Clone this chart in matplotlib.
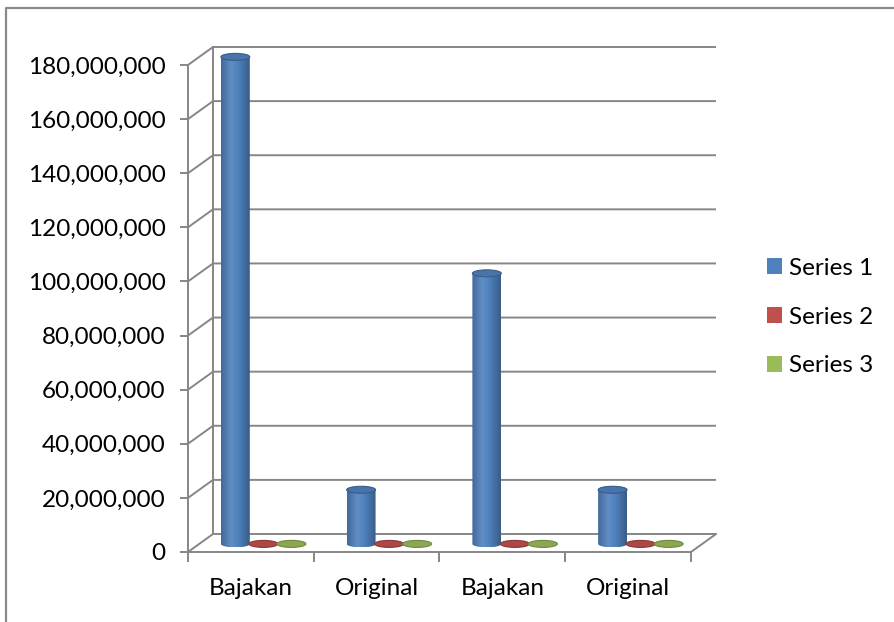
import numpy as np
import matplotlib
matplotlib.use("Agg")
import matplotlib.pyplot as plt
from matplotlib.patches import Polygon, Ellipse, Patch
from matplotlib.colors import to_rgb, LinearSegmentedColormap
from matplotlib.ticker import FuncFormatter

# data
categories = ["Bajakan", "Original", "Bajakan", "Original"]
series_names = ["Series 1", "Series 2", "Series 3"]
series1 = [180000000, 20000000, 100000000, 20000000]
series2 = [0, 0, 0, 0]
series3 = [0, 0, 0, 0]
y_ticks = np.arange(0, 180000001, 20000000)

colors = ["#4F81BD", "#C0504D", "#9BBB59"]
grid_col = "#868686"
fsize = 17.5

plt.rcParams["font.family"] = ["Lato", "DejaVu Sans"]

W, H = 894, 622
fig = plt.figure(figsize=(W / 100, H / 100), dpi=100)

# front plane of the 3D box
ax = fig.add_axes([188 / W, (H - 552) / H, (691 - 188) / W, (552 - 65) / H])
ax.set_xlim(0, len(categories))
ax.set_ylim(0, y_ticks[-1])
ax.patch.set_visible(False)
for s in ("top", "right"):
    ax.spines[s].set_visible(False)
for s in ("left", "bottom"):
    ax.spines[s].set_color(grid_col)
    ax.spines[s].set_linewidth(1.4)
ax.set_yticks(y_ticks)
ax.yaxis.set_major_formatter(FuncFormatter(lambda v, p: f"{v:,.0f}"))
ax.tick_params(axis="y", length=5.5, width=1.4, color=grid_col, pad=10.5, labelsize=fsize)
ax.set_xticks(np.arange(len(categories) + 1))
ax.set_xticklabels([])
ax.set_xticks(np.arange(len(categories)) + 0.5, minor=True)
ax.set_xticklabels(categories, minor=True)
ax.tick_params(axis="x", which="major", length=7, width=1.4, color=grid_col)
ax.tick_params(axis="x", which="minor", length=0, pad=19, labelsize=fsize)

# overlay in pixel units for the walls and cylinders
pa = fig.add_axes([0, 0, 1, 1], zorder=-1)
pa.set_xlim(0, W)
pa.set_ylim(0, H)
pa.set_autoscale_on(False)
pa.axis("off")

DX, DY = 25, 18


def proj(x, v, d):
    px = ax.transData.transform((x, v))
    return px[0] + DX * d, px[1] + DY * d


def shade(c, f):
    c = np.array(to_rgb(c))
    if f <= 1:
        return tuple(c * f)
    return tuple(c + (1 - c) * (f - 1))


n = len(categories)
for v in y_ticks:
    x0, y0 = proj(0, v, 0)
    x1, y1 = proj(0, v, 1)
    x2, y2 = proj(n, v, 1)
    pa.plot([x0, x1, x2], [y0, y1, y2], color=grid_col, lw=1.4, solid_capstyle="butt")
bx0, by0 = proj(0, 0, 1)
bx1, by1 = proj(0, y_ticks[-1], 1)
pa.plot([bx0, bx1], [by0, by1], color=grid_col, lw=1.4)
fx0, fy0 = proj(n, 0, 0)
fx1, fy1 = proj(n, 0, 1)
pa.plot([fx0, fx1], [fy0, fy1], color=grid_col, lw=1.4)

# cylinders
offsets = [0.287, 0.51, 0.733]
hw = 0.115
depth = 0.45
ry = 3.5
grad = np.linspace(0, 1, 64)[None, :]
for si, (vals, col) in enumerate(zip([series1, series2, series3], colors)):
    cmap = LinearSegmentedColormap.from_list(
        "cyl%d" % si,
        [(0, shade(col, 0.82)), (0.35, shade(col, 1.1)), (0.6, shade(col, 1.0)), (1, shade(col, 0.72))])
    for ci, v in enumerate(vals):
        cx = ci + offsets[si]
        xl, yb = proj(cx - hw, 0, depth)
        xr, _ = proj(cx + hw, 0, depth)
        _, yt = proj(cx, v, depth)
        xc = (xl + xr) / 2
        rx = (xr - xl) / 2
        if yt - yb > 0.5:
            t = np.linspace(np.pi, 2 * np.pi, 40)
            pts = [(xl, yt)] + [(xc + rx * np.cos(a), yb + ry * np.sin(a)) for a in t] + [(xr, yt)]
            body = Polygon(pts, closed=True, facecolor="none", edgecolor="none")
            pa.add_patch(body)
            im = pa.imshow(grad, extent=[xl, xr, yb - ry, yt], aspect="auto", cmap=cmap,
                           origin="lower", interpolation="bicubic", zorder=3)
            im.set_clip_path(body)
        pa.add_patch(Ellipse((xc, yt), 2 * rx, 2 * ry, facecolor=shade(col, 0.9),
                             edgecolor=shade(col, 0.72), lw=0.8, zorder=4))

# outer border
pa.plot([6, 6, W], [0, H - 8, H - 8], color="#8a8a8a", lw=1.6)

handles = [Patch(facecolor=c) for c in colors]
fig.legend(handles, series_names, loc="center left", bbox_to_anchor=(767 / W, (H - 317) / H),
           frameon=False, fontsize=fsize, handlelength=0.62, handleheight=0.62,
           handletextpad=0.3, labelspacing=1.14, borderpad=0, borderaxespad=0)

fig.savefig("out.png", dpi=100)
